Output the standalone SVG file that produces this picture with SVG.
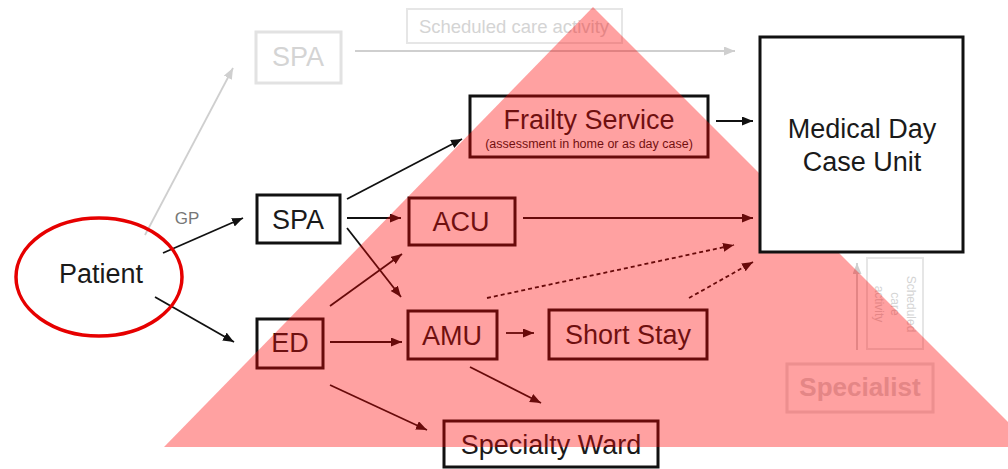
<svg xmlns="http://www.w3.org/2000/svg" width="1008" height="469" viewBox="0 0 1008 469">
<style>
  .box{fill:none;stroke:#111;stroke-width:3}
  .t{font-family:"Liberation Sans",Arial,sans-serif;fill:#1a1a1a;text-anchor:middle}
  .big{font-size:27px}
  .faint{fill:none;stroke:#e2e2e2;stroke-width:3}
  .ft{font-family:"Liberation Sans",Arial,sans-serif;fill:#d4d4d4;text-anchor:middle}
  .c{stroke:#111;stroke-width:1.8;fill:none;marker-end:url(#ah)}
  .d{stroke-dasharray:4 3}
  .fc{stroke:#cfcfcf;stroke-width:1.8;fill:none;marker-end:url(#ahg)}
</style>
<defs>
  <marker id="ah" markerUnits="userSpaceOnUse" markerWidth="12" markerHeight="10" refX="11" refY="4.5" orient="auto">
    <path d="M0,0 L11,4.5 L0,9 Z" fill="#111"/>
  </marker>
  <marker id="ahg" markerUnits="userSpaceOnUse" markerWidth="12" markerHeight="10" refX="11" refY="4.5" orient="auto">
    <path d="M0,0 L11,4.5 L0,9 Z" fill="#cfcfcf"/>
  </marker>
</defs>
<rect width="1008" height="469" fill="#fff"/>

<g id="faded">
  <g id="spa-faded">
    <rect class="faint" x="256" y="32" width="85" height="51"/>
    <text class="ft big" x="298" y="66">SPA</text>
  </g>
  <g id="scheduled-top">
    <rect x="407" y="9" width="215" height="34" fill="none" stroke="#e6e6e6" stroke-width="2"/>
    <text class="ft" x="514" y="33" font-size="18.5px">Scheduled care activity</text>
  </g>
  <g id="scheduled-side">
    <rect x="867" y="258" width="56" height="91" fill="none" stroke="#e6e6e6" stroke-width="2"/>
    <g class="ft" font-size="12px">
      <text transform="translate(907,304) rotate(90)">Scheduled</text>
      <text transform="translate(891,304) rotate(90)">care</text>
      <text transform="translate(875,304) rotate(90)">activity</text>
    </g>
  </g>
  <g id="specialist">
    <rect class="faint" x="787" y="364" width="146" height="48"/>
    <text class="ft" x="860" y="396" font-size="26px" font-weight="bold">Specialist</text>
  </g>
  <path class="fc" d="M145,235 L233,68"/>
  <path class="fc" d="M355,51 L735,51"/>
  <path class="fc" d="M857,350 L857,263"/>
</g>

<g id="connectors">
  <path class="c" d="M163,253 L243,218"/>
  <path class="c" d="M155,297 L234,342"/>
  <path class="c" d="M347,218 L401,218"/>
  <path class="c" d="M347,228 L401,297"/>
  <path class="c" d="M347,199 L462,139"/>
  <path class="c" d="M330,306 L402,254"/>
  <path class="c" d="M330,342 L402,342"/>
  <path class="c" d="M523,218 L753,218"/>
  <path class="c" d="M716,121 L753,121"/>
  <path class="c d" d="M487,298 L734,245"/>
  <path class="c d" d="M689,298 L753,262"/>
  <path class="c" d="M506,333 L534,333"/>
  <path class="c" d="M470,367 L541,403"/>
  <path class="c" d="M330,385 L427,430"/>
  <text x="187" y="224" font-family="Liberation Sans,Arial,sans-serif" font-size="17px" fill="#777" text-anchor="middle">GP</text>
</g>

<g id="patient">
  <ellipse cx="99" cy="277" rx="83" ry="59" fill="none" stroke="#e60000" stroke-width="3.5"/>
  <text class="t big" x="101" y="283">Patient</text>
</g>
<g id="spa">
  <rect class="box" x="257" y="195" width="83" height="48"/>
  <text class="t big" x="298" y="229">SPA</text>
</g>
<g id="ed">
  <rect class="box" x="257" y="319" width="66" height="49"/>
  <text class="t big" x="290" y="352">ED</text>
</g>
<g id="frailty">
  <rect class="box" x="470" y="96" width="238" height="61"/>
  <text class="t big" x="589" y="129">Frailty Service</text>
  <text class="t" x="589" y="148" font-size="12.5px">(assessment in home or as day case)</text>
</g>
<g id="acu">
  <rect class="box" x="409" y="198" width="106" height="47"/>
  <text class="t big" x="461" y="231">ACU</text>
</g>
<g id="amu">
  <rect class="box" x="408" y="311" width="89" height="48"/>
  <text class="t big" x="452" y="345">AMU</text>
</g>
<g id="short-stay">
  <rect class="box" x="549" y="310" width="158" height="49"/>
  <text class="t big" x="628" y="344">Short Stay</text>
</g>
<g id="specialty-ward">
  <rect class="box" x="444" y="421" width="214" height="46"/>
  <text class="t big" x="551" y="454">Specialty Ward</text>
</g>

<polygon id="triangle" points="593,7 164,447 1033,447" fill="#ff0000" fill-opacity="0.37"/>

<g id="mdcu">
  <rect x="760" y="37" width="203" height="215" fill="#fff" stroke="#111" stroke-width="3"/>
  <text class="t big" x="862" y="138">Medical Day</text>
  <text class="t big" x="862" y="171">Case Unit</text>
</g>
</svg>
